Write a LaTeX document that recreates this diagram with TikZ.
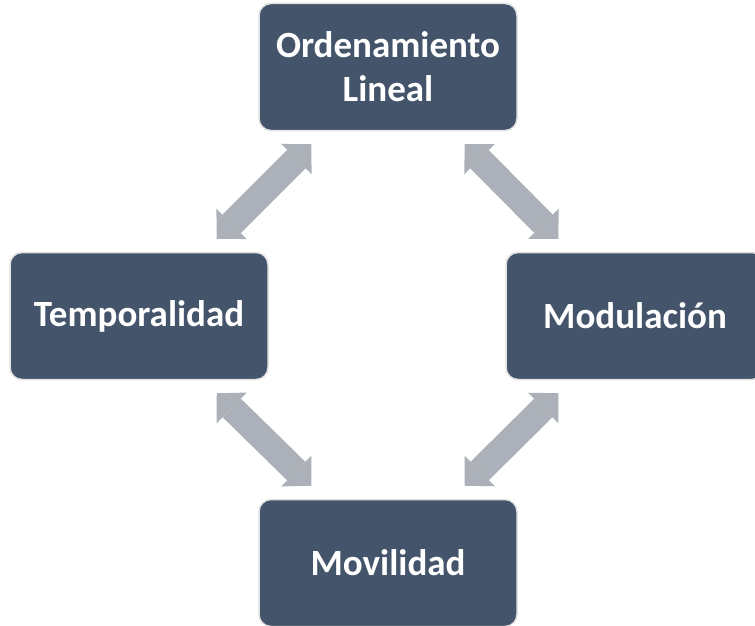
\documentclass[tikz,border=0pt]{standalone}
\usepackage{fontspec}
\setmainfont{Carlito}
\usetikzlibrary{arrows.meta,calc}
\definecolor{boxblue}{RGB}{68,84,106}
\definecolor{arrowgray}{RGB}{172,176,184}
\definecolor{rimgray}{RGB}{226,226,226}

\begin{document}
\begin{tikzpicture}[x=1pt,y=-1pt,
  topic/.style={draw=rimgray,line width=1.5pt,fill=boxblue,
    rounded corners=12pt,minimum width=258pt,minimum height=127pt,
    inner sep=0pt,align=center,text=white,
    font=\fontsize{37}{44}\selectfont\bfseries},
  link/.style={arrowgray,line width=26pt,
    {Triangle[width=43pt,length=21pt,line width=0pt]}-{Triangle[width=43pt,length=21pt,line width=0pt]}}]
  \useasboundingbox (0,0) rectangle (755,626);
  \fill[white] (0,0) rectangle (755,626);
  \clip (0,0) rectangle (755,626);

  % four topics placed round a cycle
  \node[topic] (lineal)   at (388,67)  {Ordenamiento\\Lineal};
  \node[topic] (temporal) at (139,316) {Temporalidad};
  \node[topic] (modul)    at (635,316) {Modulación};
  \node[topic] (movil)    at (388,563) {Movilidad};

  \draw[link] ($(lineal.south west)+(53,13)$)
    -- ($(temporal.north east)+(-52,-13)$);
  \draw[link] ($(lineal.south east)+(-53,13)$)
    -- ($(modul.north west)+(53,-13)$);
  \draw[link] ($(temporal.south east)+(-52,13)$)
    -- ($(movil.north west)+(53,-13)$);
  \draw[link] ($(modul.south west)+(53,13)$)
    -- ($(movil.north east)+(-53,-13)$);
\end{tikzpicture}
\end{document}
